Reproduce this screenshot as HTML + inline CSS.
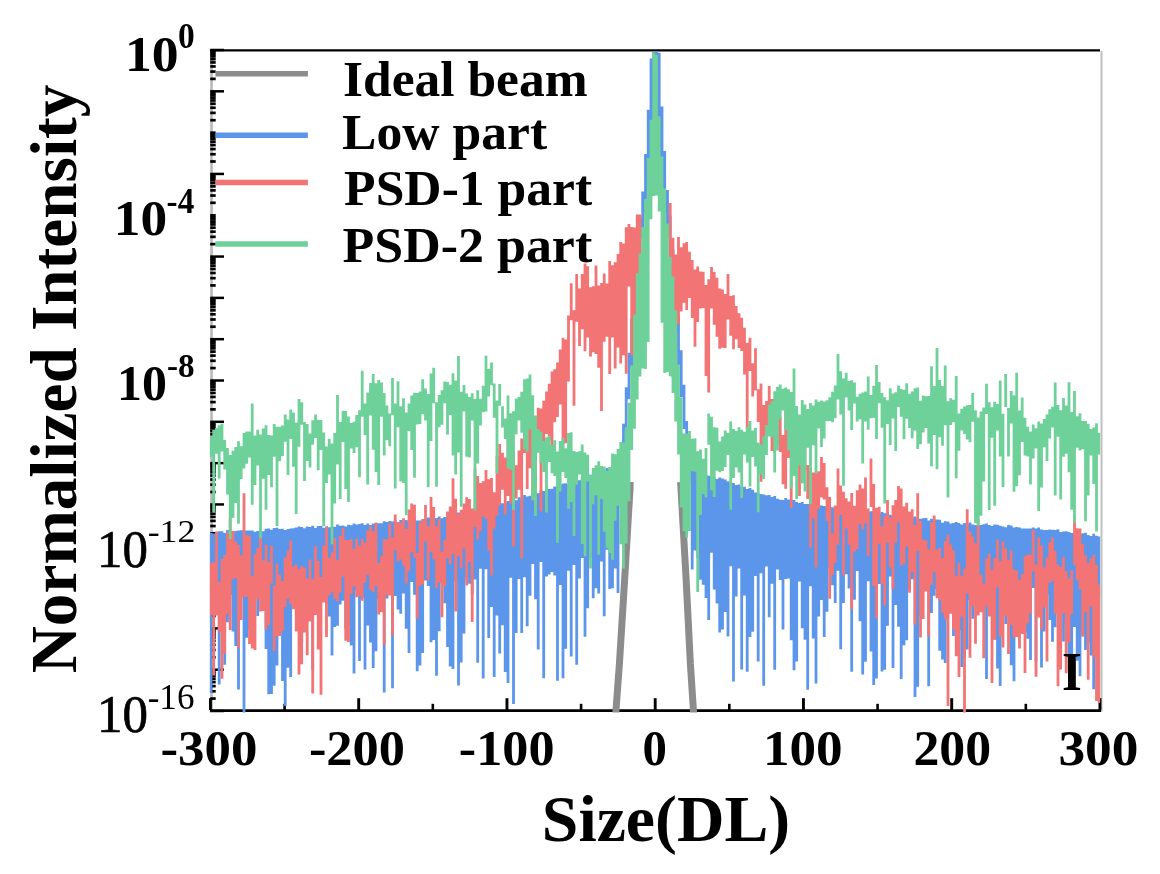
<!DOCTYPE html>
<html><head><meta charset="utf-8"><style>html,body{margin:0;padding:0;background:#fff;width:1160px;height:874px;overflow:hidden}svg{display:block;filter:blur(0.45px)}</style></head>
<body><svg width="1160" height="874" viewBox="0 0 1160 874"><line x1="211.55" y1="50" x2="211.55" y2="712" stroke="#bbbbbb" stroke-width="2.7"/>
<line x1="1101.5" y1="51" x2="1101.5" y2="712" stroke="#c0c0c0" stroke-width="2"/>
<line x1="210.2" y1="50.4" x2="1100" y2="50.4" stroke="#000" stroke-width="2.4"/>
<line x1="210.2" y1="710.7" x2="1101" y2="710.7" stroke="#000" stroke-width="2.7"/>
<line x1="210.2" y1="50.00" x2="224" y2="50.00" stroke="#000" stroke-width="2.5"/>
<line x1="210.2" y1="78.88" x2="215.7" y2="78.88" stroke="#000" stroke-width="2.7"/>
<line x1="210.2" y1="71.60" x2="215.7" y2="71.60" stroke="#000" stroke-width="2.7"/>
<line x1="210.2" y1="66.44" x2="215.7" y2="66.44" stroke="#000" stroke-width="2.7"/>
<line x1="210.2" y1="62.44" x2="215.7" y2="62.44" stroke="#000" stroke-width="2.7"/>
<line x1="210.2" y1="59.17" x2="215.7" y2="59.17" stroke="#000" stroke-width="2.7"/>
<line x1="210.2" y1="56.40" x2="215.7" y2="56.40" stroke="#000" stroke-width="2.7"/>
<line x1="210.2" y1="54.00" x2="215.7" y2="54.00" stroke="#000" stroke-width="2.7"/>
<line x1="210.2" y1="51.89" x2="215.7" y2="51.89" stroke="#000" stroke-width="2.7"/>
<line x1="210.2" y1="91.31" x2="224" y2="91.31" stroke="#000" stroke-width="2.5"/>
<line x1="210.2" y1="120.19" x2="215.7" y2="120.19" stroke="#000" stroke-width="2.7"/>
<line x1="210.2" y1="112.91" x2="215.7" y2="112.91" stroke="#000" stroke-width="2.7"/>
<line x1="210.2" y1="107.75" x2="215.7" y2="107.75" stroke="#000" stroke-width="2.7"/>
<line x1="210.2" y1="103.75" x2="215.7" y2="103.75" stroke="#000" stroke-width="2.7"/>
<line x1="210.2" y1="100.48" x2="215.7" y2="100.48" stroke="#000" stroke-width="2.7"/>
<line x1="210.2" y1="97.71" x2="215.7" y2="97.71" stroke="#000" stroke-width="2.7"/>
<line x1="210.2" y1="95.32" x2="215.7" y2="95.32" stroke="#000" stroke-width="2.7"/>
<line x1="210.2" y1="93.20" x2="215.7" y2="93.20" stroke="#000" stroke-width="2.7"/>
<line x1="210.2" y1="132.62" x2="215.7" y2="132.62" stroke="#000" stroke-width="2.5"/>
<line x1="210.2" y1="161.50" x2="215.7" y2="161.50" stroke="#000" stroke-width="2.7"/>
<line x1="210.2" y1="154.23" x2="215.7" y2="154.23" stroke="#000" stroke-width="2.7"/>
<line x1="210.2" y1="149.06" x2="215.7" y2="149.06" stroke="#000" stroke-width="2.7"/>
<line x1="210.2" y1="145.06" x2="215.7" y2="145.06" stroke="#000" stroke-width="2.7"/>
<line x1="210.2" y1="141.79" x2="215.7" y2="141.79" stroke="#000" stroke-width="2.7"/>
<line x1="210.2" y1="139.02" x2="215.7" y2="139.02" stroke="#000" stroke-width="2.7"/>
<line x1="210.2" y1="136.63" x2="215.7" y2="136.63" stroke="#000" stroke-width="2.7"/>
<line x1="210.2" y1="134.52" x2="215.7" y2="134.52" stroke="#000" stroke-width="2.7"/>
<line x1="210.2" y1="173.94" x2="224" y2="173.94" stroke="#000" stroke-width="2.5"/>
<line x1="210.2" y1="202.81" x2="215.7" y2="202.81" stroke="#000" stroke-width="2.7"/>
<line x1="210.2" y1="195.54" x2="215.7" y2="195.54" stroke="#000" stroke-width="2.7"/>
<line x1="210.2" y1="190.38" x2="215.7" y2="190.38" stroke="#000" stroke-width="2.7"/>
<line x1="210.2" y1="186.37" x2="215.7" y2="186.37" stroke="#000" stroke-width="2.7"/>
<line x1="210.2" y1="183.10" x2="215.7" y2="183.10" stroke="#000" stroke-width="2.7"/>
<line x1="210.2" y1="180.34" x2="215.7" y2="180.34" stroke="#000" stroke-width="2.7"/>
<line x1="210.2" y1="177.94" x2="215.7" y2="177.94" stroke="#000" stroke-width="2.7"/>
<line x1="210.2" y1="175.83" x2="215.7" y2="175.83" stroke="#000" stroke-width="2.7"/>
<line x1="210.2" y1="215.25" x2="215.7" y2="215.25" stroke="#000" stroke-width="2.5"/>
<line x1="210.2" y1="244.13" x2="215.7" y2="244.13" stroke="#000" stroke-width="2.7"/>
<line x1="210.2" y1="236.85" x2="215.7" y2="236.85" stroke="#000" stroke-width="2.7"/>
<line x1="210.2" y1="231.69" x2="215.7" y2="231.69" stroke="#000" stroke-width="2.7"/>
<line x1="210.2" y1="227.69" x2="215.7" y2="227.69" stroke="#000" stroke-width="2.7"/>
<line x1="210.2" y1="224.42" x2="215.7" y2="224.42" stroke="#000" stroke-width="2.7"/>
<line x1="210.2" y1="221.65" x2="215.7" y2="221.65" stroke="#000" stroke-width="2.7"/>
<line x1="210.2" y1="219.25" x2="215.7" y2="219.25" stroke="#000" stroke-width="2.7"/>
<line x1="210.2" y1="217.14" x2="215.7" y2="217.14" stroke="#000" stroke-width="2.7"/>
<line x1="210.2" y1="256.56" x2="224" y2="256.56" stroke="#000" stroke-width="2.5"/>
<line x1="210.2" y1="285.44" x2="215.7" y2="285.44" stroke="#000" stroke-width="2.7"/>
<line x1="210.2" y1="278.16" x2="215.7" y2="278.16" stroke="#000" stroke-width="2.7"/>
<line x1="210.2" y1="273.00" x2="215.7" y2="273.00" stroke="#000" stroke-width="2.7"/>
<line x1="210.2" y1="269.00" x2="215.7" y2="269.00" stroke="#000" stroke-width="2.7"/>
<line x1="210.2" y1="265.73" x2="215.7" y2="265.73" stroke="#000" stroke-width="2.7"/>
<line x1="210.2" y1="262.96" x2="215.7" y2="262.96" stroke="#000" stroke-width="2.7"/>
<line x1="210.2" y1="260.57" x2="215.7" y2="260.57" stroke="#000" stroke-width="2.7"/>
<line x1="210.2" y1="258.45" x2="215.7" y2="258.45" stroke="#000" stroke-width="2.7"/>
<line x1="210.2" y1="297.88" x2="224" y2="297.88" stroke="#000" stroke-width="2.5"/>
<line x1="210.2" y1="326.75" x2="215.7" y2="326.75" stroke="#000" stroke-width="2.7"/>
<line x1="210.2" y1="319.48" x2="215.7" y2="319.48" stroke="#000" stroke-width="2.7"/>
<line x1="210.2" y1="314.31" x2="215.7" y2="314.31" stroke="#000" stroke-width="2.7"/>
<line x1="210.2" y1="310.31" x2="215.7" y2="310.31" stroke="#000" stroke-width="2.7"/>
<line x1="210.2" y1="307.04" x2="215.7" y2="307.04" stroke="#000" stroke-width="2.7"/>
<line x1="210.2" y1="304.27" x2="215.7" y2="304.27" stroke="#000" stroke-width="2.7"/>
<line x1="210.2" y1="301.88" x2="215.7" y2="301.88" stroke="#000" stroke-width="2.7"/>
<line x1="210.2" y1="299.77" x2="215.7" y2="299.77" stroke="#000" stroke-width="2.7"/>
<line x1="210.2" y1="339.19" x2="224" y2="339.19" stroke="#000" stroke-width="2.5"/>
<line x1="210.2" y1="368.06" x2="215.7" y2="368.06" stroke="#000" stroke-width="2.7"/>
<line x1="210.2" y1="360.79" x2="215.7" y2="360.79" stroke="#000" stroke-width="2.7"/>
<line x1="210.2" y1="355.63" x2="215.7" y2="355.63" stroke="#000" stroke-width="2.7"/>
<line x1="210.2" y1="351.62" x2="215.7" y2="351.62" stroke="#000" stroke-width="2.7"/>
<line x1="210.2" y1="348.35" x2="215.7" y2="348.35" stroke="#000" stroke-width="2.7"/>
<line x1="210.2" y1="345.59" x2="215.7" y2="345.59" stroke="#000" stroke-width="2.7"/>
<line x1="210.2" y1="343.19" x2="215.7" y2="343.19" stroke="#000" stroke-width="2.7"/>
<line x1="210.2" y1="341.08" x2="215.7" y2="341.08" stroke="#000" stroke-width="2.7"/>
<line x1="210.2" y1="380.50" x2="224" y2="380.50" stroke="#000" stroke-width="2.5"/>
<line x1="210.2" y1="409.38" x2="215.7" y2="409.38" stroke="#000" stroke-width="2.7"/>
<line x1="210.2" y1="402.10" x2="215.7" y2="402.10" stroke="#000" stroke-width="2.7"/>
<line x1="210.2" y1="396.94" x2="215.7" y2="396.94" stroke="#000" stroke-width="2.7"/>
<line x1="210.2" y1="392.94" x2="215.7" y2="392.94" stroke="#000" stroke-width="2.7"/>
<line x1="210.2" y1="389.67" x2="215.7" y2="389.67" stroke="#000" stroke-width="2.7"/>
<line x1="210.2" y1="386.90" x2="215.7" y2="386.90" stroke="#000" stroke-width="2.7"/>
<line x1="210.2" y1="384.50" x2="215.7" y2="384.50" stroke="#000" stroke-width="2.7"/>
<line x1="210.2" y1="382.39" x2="215.7" y2="382.39" stroke="#000" stroke-width="2.7"/>
<line x1="210.2" y1="421.81" x2="224" y2="421.81" stroke="#000" stroke-width="2.5"/>
<line x1="210.2" y1="450.69" x2="215.7" y2="450.69" stroke="#000" stroke-width="2.7"/>
<line x1="210.2" y1="443.41" x2="215.7" y2="443.41" stroke="#000" stroke-width="2.7"/>
<line x1="210.2" y1="438.25" x2="215.7" y2="438.25" stroke="#000" stroke-width="2.7"/>
<line x1="210.2" y1="434.25" x2="215.7" y2="434.25" stroke="#000" stroke-width="2.7"/>
<line x1="210.2" y1="430.98" x2="215.7" y2="430.98" stroke="#000" stroke-width="2.7"/>
<line x1="210.2" y1="428.21" x2="215.7" y2="428.21" stroke="#000" stroke-width="2.7"/>
<line x1="210.2" y1="425.82" x2="215.7" y2="425.82" stroke="#000" stroke-width="2.7"/>
<line x1="210.2" y1="423.70" x2="215.7" y2="423.70" stroke="#000" stroke-width="2.7"/>
<line x1="210.2" y1="463.12" x2="224" y2="463.12" stroke="#000" stroke-width="2.5"/>
<line x1="210.2" y1="492.00" x2="215.7" y2="492.00" stroke="#000" stroke-width="2.7"/>
<line x1="210.2" y1="484.73" x2="215.7" y2="484.73" stroke="#000" stroke-width="2.7"/>
<line x1="210.2" y1="479.56" x2="215.7" y2="479.56" stroke="#000" stroke-width="2.7"/>
<line x1="210.2" y1="475.56" x2="215.7" y2="475.56" stroke="#000" stroke-width="2.7"/>
<line x1="210.2" y1="472.29" x2="215.7" y2="472.29" stroke="#000" stroke-width="2.7"/>
<line x1="210.2" y1="469.52" x2="215.7" y2="469.52" stroke="#000" stroke-width="2.7"/>
<line x1="210.2" y1="467.13" x2="215.7" y2="467.13" stroke="#000" stroke-width="2.7"/>
<line x1="210.2" y1="465.02" x2="215.7" y2="465.02" stroke="#000" stroke-width="2.7"/>
<line x1="210.2" y1="504.44" x2="224" y2="504.44" stroke="#000" stroke-width="2.5"/>
<line x1="210.2" y1="533.31" x2="215.7" y2="533.31" stroke="#000" stroke-width="2.7"/>
<line x1="210.2" y1="526.04" x2="215.7" y2="526.04" stroke="#000" stroke-width="2.7"/>
<line x1="210.2" y1="520.88" x2="215.7" y2="520.88" stroke="#000" stroke-width="2.7"/>
<line x1="210.2" y1="516.87" x2="215.7" y2="516.87" stroke="#000" stroke-width="2.7"/>
<line x1="210.2" y1="513.60" x2="215.7" y2="513.60" stroke="#000" stroke-width="2.7"/>
<line x1="210.2" y1="510.84" x2="215.7" y2="510.84" stroke="#000" stroke-width="2.7"/>
<line x1="210.2" y1="508.44" x2="215.7" y2="508.44" stroke="#000" stroke-width="2.7"/>
<line x1="210.2" y1="506.33" x2="215.7" y2="506.33" stroke="#000" stroke-width="2.7"/>
<line x1="210.2" y1="545.75" x2="224" y2="545.75" stroke="#000" stroke-width="2.5"/>
<line x1="210.2" y1="574.63" x2="215.7" y2="574.63" stroke="#000" stroke-width="2.7"/>
<line x1="210.2" y1="567.35" x2="215.7" y2="567.35" stroke="#000" stroke-width="2.7"/>
<line x1="210.2" y1="562.19" x2="215.7" y2="562.19" stroke="#000" stroke-width="2.7"/>
<line x1="210.2" y1="558.19" x2="215.7" y2="558.19" stroke="#000" stroke-width="2.7"/>
<line x1="210.2" y1="554.92" x2="215.7" y2="554.92" stroke="#000" stroke-width="2.7"/>
<line x1="210.2" y1="552.15" x2="215.7" y2="552.15" stroke="#000" stroke-width="2.7"/>
<line x1="210.2" y1="549.75" x2="215.7" y2="549.75" stroke="#000" stroke-width="2.7"/>
<line x1="210.2" y1="547.64" x2="215.7" y2="547.64" stroke="#000" stroke-width="2.7"/>
<line x1="210.2" y1="587.06" x2="224" y2="587.06" stroke="#000" stroke-width="2.5"/>
<line x1="210.2" y1="615.94" x2="215.7" y2="615.94" stroke="#000" stroke-width="2.7"/>
<line x1="210.2" y1="608.66" x2="215.7" y2="608.66" stroke="#000" stroke-width="2.7"/>
<line x1="210.2" y1="603.50" x2="215.7" y2="603.50" stroke="#000" stroke-width="2.7"/>
<line x1="210.2" y1="599.50" x2="215.7" y2="599.50" stroke="#000" stroke-width="2.7"/>
<line x1="210.2" y1="596.23" x2="215.7" y2="596.23" stroke="#000" stroke-width="2.7"/>
<line x1="210.2" y1="593.46" x2="215.7" y2="593.46" stroke="#000" stroke-width="2.7"/>
<line x1="210.2" y1="591.07" x2="215.7" y2="591.07" stroke="#000" stroke-width="2.7"/>
<line x1="210.2" y1="588.95" x2="215.7" y2="588.95" stroke="#000" stroke-width="2.7"/>
<line x1="210.2" y1="628.38" x2="224" y2="628.38" stroke="#000" stroke-width="2.5"/>
<line x1="210.2" y1="657.25" x2="215.7" y2="657.25" stroke="#000" stroke-width="2.7"/>
<line x1="210.2" y1="649.98" x2="215.7" y2="649.98" stroke="#000" stroke-width="2.7"/>
<line x1="210.2" y1="644.81" x2="215.7" y2="644.81" stroke="#000" stroke-width="2.7"/>
<line x1="210.2" y1="640.81" x2="215.7" y2="640.81" stroke="#000" stroke-width="2.7"/>
<line x1="210.2" y1="637.54" x2="215.7" y2="637.54" stroke="#000" stroke-width="2.7"/>
<line x1="210.2" y1="634.77" x2="215.7" y2="634.77" stroke="#000" stroke-width="2.7"/>
<line x1="210.2" y1="632.38" x2="215.7" y2="632.38" stroke="#000" stroke-width="2.7"/>
<line x1="210.2" y1="630.27" x2="215.7" y2="630.27" stroke="#000" stroke-width="2.7"/>
<line x1="210.2" y1="669.69" x2="224" y2="669.69" stroke="#000" stroke-width="2.5"/>
<line x1="210.2" y1="698.56" x2="215.7" y2="698.56" stroke="#000" stroke-width="2.7"/>
<line x1="210.2" y1="691.29" x2="215.7" y2="691.29" stroke="#000" stroke-width="2.7"/>
<line x1="210.2" y1="686.13" x2="215.7" y2="686.13" stroke="#000" stroke-width="2.7"/>
<line x1="210.2" y1="682.12" x2="215.7" y2="682.12" stroke="#000" stroke-width="2.7"/>
<line x1="210.2" y1="678.85" x2="215.7" y2="678.85" stroke="#000" stroke-width="2.7"/>
<line x1="210.2" y1="676.09" x2="215.7" y2="676.09" stroke="#000" stroke-width="2.7"/>
<line x1="210.2" y1="673.69" x2="215.7" y2="673.69" stroke="#000" stroke-width="2.7"/>
<line x1="210.2" y1="671.58" x2="215.7" y2="671.58" stroke="#000" stroke-width="2.7"/>
<line x1="210.2" y1="711.00" x2="224" y2="711.00" stroke="#000" stroke-width="2.5"/>
<line x1="210.45" y1="698.2" x2="210.45" y2="710" stroke="#000" stroke-width="2.9"/>
<line x1="284.58" y1="703.8" x2="284.58" y2="710" stroke="#000" stroke-width="2.6"/>
<line x1="358.70" y1="698.2" x2="358.70" y2="710" stroke="#000" stroke-width="2.9"/>
<line x1="432.83" y1="703.8" x2="432.83" y2="710" stroke="#000" stroke-width="2.6"/>
<line x1="506.95" y1="698.2" x2="506.95" y2="710" stroke="#000" stroke-width="2.9"/>
<line x1="581.08" y1="703.8" x2="581.08" y2="710" stroke="#000" stroke-width="2.6"/>
<line x1="655.20" y1="698.2" x2="655.20" y2="710" stroke="#000" stroke-width="2.9"/>
<line x1="729.33" y1="703.8" x2="729.33" y2="710" stroke="#000" stroke-width="2.6"/>
<line x1="803.45" y1="698.2" x2="803.45" y2="710" stroke="#000" stroke-width="2.9"/>
<line x1="877.58" y1="703.8" x2="877.58" y2="710" stroke="#000" stroke-width="2.6"/>
<line x1="951.70" y1="698.2" x2="951.70" y2="710" stroke="#000" stroke-width="2.9"/>
<line x1="1025.83" y1="703.8" x2="1025.83" y2="710" stroke="#000" stroke-width="2.6"/>
<line x1="1099.95" y1="698.2" x2="1099.95" y2="710" stroke="#000" stroke-width="2.9"/>
<defs><clipPath id="pc"><rect x="209.6" y="51.6" width="890.6" height="660.9"/></clipPath></defs>
<g clip-path="url(#pc)">
<polyline points="630.2,482.0 630.0,489.0 624.8,577.0 619.4,664.0 616.0,710.0 615.7,716.0" fill="none" stroke="#8c8c8c" stroke-width="7" stroke-linejoin="miter" stroke-miterlimit="1" />
<polyline points="680.6,482.0 681.0,489.0 686.0,577.0 690.4,664.0 693.4,710.0 693.7,716.0" fill="none" stroke="#8c8c8c" stroke-width="7" stroke-linejoin="miter" stroke-miterlimit="1" />
<path d="M211.0 532.8V692.9M213.7 533.5V589.8M216.5 533.0V588.8M219.2 531.2V684.5M222.0 531.3V587.7M224.7 532.9V664.8M227.5 530.1V622.3M230.2 532.5V595.0M233.0 532.2V631.4M235.7 531.1V645.9M238.5 530.5V689.4M241.2 530.3V594.0M244.0 530.1V713.0M246.7 530.5V637.7M249.5 530.5V629.8M252.2 530.5V619.0M255.0 531.7V598.9M257.7 531.0V615.9M260.5 530.3V598.6M263.2 531.3V594.8M266.0 528.8V649.1M268.7 528.5V694.3M271.5 529.8V694.1M274.2 527.9V685.8M277.0 527.8V665.4M279.7 529.1V591.8M282.5 528.8V680.9M285.2 530.0V706.0M288.0 529.0V667.7M290.7 528.5V677.1M293.5 528.3V586.3M296.2 527.4V586.4M299.0 526.5V617.8M301.7 526.9V642.0M304.5 528.2V615.3M307.2 526.6V595.1M310.0 527.0V600.3M312.7 525.7V669.8M315.5 528.0V589.5M318.2 525.9V605.6M321.0 526.0V595.4M323.7 527.7V594.1M326.5 526.4V603.2M329.2 527.3V616.6M332.0 526.5V655.6M334.7 526.7V627.1M337.5 524.6V625.8M340.2 525.8V604.5M343.0 525.5V600.8M345.7 526.4V628.8M348.5 524.7V624.9M351.2 525.3V645.5M354.0 523.5V673.5M356.7 524.4V591.0M359.5 524.0V660.9M362.2 523.3V597.8M365.0 525.0V669.5M367.7 523.5V625.4M370.5 525.0V642.6M373.2 523.6V668.1M376.0 523.4V651.3M378.7 523.3V598.9M381.5 523.2V597.6M384.2 521.3V692.5M387.0 522.0V598.4M389.7 521.1V593.5M392.5 521.4V688.3M395.2 520.2V595.9M398.0 522.6V609.5M400.7 520.1V613.7M403.5 521.2V593.6M406.2 519.9V628.7M409.0 521.3V652.9M411.7 520.5V581.9M414.5 518.6V594.7M417.2 520.5V671.3M420.0 520.6V665.5M422.7 520.2V653.0M425.5 519.0V580.5M428.2 517.5V586.0M431.0 517.4V642.3M433.7 519.3V639.9M436.5 518.0V675.8M439.2 516.6V631.3M442.0 518.3V582.6M444.7 517.0V603.3M447.5 516.2V647.1M450.2 515.1V666.6M453.0 514.6V668.9M455.7 513.6V581.2M458.5 512.4V685.6M461.2 514.4V662.6M464.0 512.6V633.4M466.7 512.3V578.2M469.5 511.1V583.7M472.2 511.8V594.2M475.0 509.1V579.5M477.7 509.6V662.8M480.5 508.0V568.8M483.2 507.4V678.5M486.0 509.2V569.2M488.7 507.5V637.9M491.5 506.0V607.1M494.2 505.5V677.1M497.0 505.8V615.6M499.7 503.4V653.5M502.5 503.3V625.2M505.2 502.8V672.0M508.0 501.1V683.1M510.7 500.8V577.8M513.5 500.7V704.0M516.2 500.3V632.9M519.0 497.2V578.9M521.7 498.7V632.9M524.5 495.1V577.3M527.2 496.5V626.2M530.0 495.8V595.7M532.7 492.9V563.9M535.5 492.9V599.3M538.2 493.2V649.5M541.0 490.0V562.1M543.7 491.0V678.2M546.5 490.6V576.5M549.2 488.9V574.5M552.0 488.7V572.0M554.7 486.4V575.5M557.5 485.4V680.8M560.2 485.1V585.1M563.0 483.6V678.2M565.7 483.3V648.8M568.5 484.2V570.7M571.2 482.3V656.5M574.0 480.6V565.1M576.7 479.4V664.8M579.5 480.3V578.5M582.2 477.7V558.0M585.0 478.3V636.8M587.7 475.8V608.3M590.5 474.7V558.0M593.2 474.8V598.2M596.0 473.3V588.2M598.7 471.7V593.6M601.5 470.2V561.5M604.2 470.4V616.3M607.0 468.0V549.8M609.7 468.4V589.1M612.5 464.8V588.2M615.2 465.1V568.5M618.0 464.8V593.1M620.7 457.1V483.2M623.5 423.7V461.0M626.2 387.2V431.4M629.0 352.8V399.3M631.7 318.4V367.2M634.5 284.5V334.1M637.2 251.2V299.7M640.0 217.9V265.3M642.7 191.6V238.3M645.5 153.9V214.3M648.2 109.8V195.9M651.0 58.5V185.6M653.7 50.7V164.8M656.5 50.6V162.7M659.2 52.7V184.7M662.0 106.5V195.2M664.7 150.9V212.4M667.5 190.1V236.7M670.2 215.4V262.8M673.0 248.8V297.2M675.7 282.1V331.6M678.5 315.9V364.9M681.2 350.3V397.0M684.0 384.7V429.0M686.7 421.0V459.4M689.5 456.2V481.8M692.2 469.0V569.4M695.0 471.0V550.6M697.7 472.0V558.2M700.5 472.7V579.8M703.2 471.7V584.7M706.0 475.1V597.9M708.7 475.7V620.1M711.5 476.9V552.8M714.2 476.9V589.5M717.0 479.1V603.6M719.7 477.5V632.6M722.5 478.5V629.6M725.2 479.4V611.9M728.0 481.2V636.6M730.7 482.2V566.2M733.5 483.0V681.4M736.2 485.1V596.5M739.0 484.4V568.6M741.7 487.0V669.5M744.5 486.7V595.4M747.2 489.1V671.8M750.0 488.1V637.1M752.7 489.8V631.8M755.5 492.6V576.0M758.2 492.4V661.5M761.0 494.1V573.3M763.7 494.5V685.8M766.5 495.3V566.5M769.2 495.0V617.3M772.0 496.9V583.7M774.7 495.9V669.7M777.5 498.7V569.6M780.2 499.7V580.1M783.0 500.0V629.5M785.7 498.1V578.9M788.5 499.5V578.6M791.2 500.0V640.2M794.0 499.9V670.2M796.7 502.0V661.4M799.5 502.9V581.5M802.2 501.9V628.2M805.0 503.9V639.7M807.7 504.1V689.8M810.5 502.5V586.3M813.2 504.8V638.5M816.0 505.6V683.4M818.7 503.9V616.4M821.5 505.5V600.0M824.2 506.1V637.0M827.0 506.4V611.8M829.7 505.2V567.9M832.5 507.3V585.2M835.2 507.5V602.9M838.0 508.5V570.8M840.7 508.8V649.2M843.5 507.7V603.1M846.2 509.2V574.2M849.0 510.0V588.4M851.7 510.4V671.8M854.5 508.5V599.7M857.2 508.5V571.0M860.0 510.7V621.2M862.7 509.7V674.5M865.5 511.1V661.8M868.2 512.6V581.2M871.0 511.3V651.5M873.7 511.3V684.9M876.5 512.3V678.5M879.2 513.2V584.1M882.0 511.9V671.6M884.7 513.2V669.7M887.5 512.8V625.7M890.2 514.8V576.4M893.0 515.7V668.1M895.7 514.7V604.9M898.5 515.0V626.8M901.2 515.9V679.1M904.0 515.3V645.2M906.7 515.8V640.2M909.5 516.4V589.5M912.2 517.2V579.3M915.0 516.4V697.0M917.7 518.8V686.8M920.5 518.7V615.9M923.2 518.2V582.1M926.0 517.9V589.3M928.7 520.4V686.3M931.5 518.8V613.0M934.2 519.2V595.8M937.0 519.6V588.8M939.7 519.8V650.8M942.5 522.7V659.4M945.2 521.2V663.0M948.0 521.6V597.1M950.7 523.5V592.3M953.5 523.1V636.0M956.2 522.0V588.8M959.0 522.9V630.2M961.7 524.4V667.0M964.5 523.0V658.2M967.2 524.2V649.5M970.0 522.5V600.1M972.7 524.6V618.8M975.5 524.9V587.9M978.2 525.2V595.3M981.0 525.0V584.0M983.7 524.2V584.2M986.5 523.5V678.9M989.2 525.0V606.6M992.0 525.9V599.6M994.7 524.4V639.8M997.5 524.8V668.4M1000.2 525.7V685.9M1003.0 526.6V598.6M1005.7 527.2V624.1M1008.5 525.0V588.5M1011.2 525.4V665.3M1014.0 527.4V681.3M1016.7 527.1V587.2M1019.5 527.5V598.1M1022.2 528.5V596.9M1025.0 528.5V631.9M1027.7 528.4V638.8M1030.5 528.4V660.0M1033.2 527.6V587.9M1036.0 528.6V662.6M1038.7 527.6V585.3M1041.5 529.6V667.6M1044.2 529.9V631.4M1047.0 530.1V594.7M1049.7 529.6V620.0M1052.5 529.7V641.7M1055.2 530.1V627.2M1058.0 529.3V608.9M1060.7 532.0V591.9M1063.5 531.5V641.4M1066.2 531.3V624.6M1069.0 532.1V670.3M1071.7 532.9V677.2M1074.5 532.2V627.0M1077.2 533.9V660.7M1080.0 534.5V676.3M1082.7 533.2V634.4M1085.5 532.8V650.1M1088.2 534.9V642.8M1091.0 535.9V655.4M1093.7 533.7V689.3M1096.5 535.7V614.9M1099.2 536.4V597.4" stroke="#5b96ea" stroke-width="2.8" fill="none"/>
<path d="M211.0 563.0V615.0M213.7 562.3V675.4M216.5 531.6V615.4M219.2 582.1V631.7M222.0 559.1V678.8M224.7 555.1V653.4M227.5 532.4V613.8M230.2 518.3V630.0M233.0 531.1V579.2M235.7 541.8V578.0M238.5 545.0V647.9M241.2 555.2V619.9M244.0 493.3V596.7M246.7 535.4V597.1M249.5 535.5V644.0M252.2 575.7V648.6M255.0 554.2V650.0M257.7 548.0V599.0M260.5 536.5V611.6M263.2 560.3V611.0M266.0 544.8V629.6M268.7 561.9V625.1M271.5 545.5V583.6M274.2 585.6V650.9M277.0 563.7V636.3M279.7 575.0V635.9M282.5 581.0V631.1M285.2 557.5V607.0M288.0 550.6V598.7M290.7 540.5V604.2M293.5 566.6V609.3M296.2 564.3V631.4M299.0 569.0V674.6M301.7 566.1V664.2M304.5 568.1V632.6M307.2 578.6V655.2M310.0 559.6V621.4M312.7 579.3V693.5M315.5 546.0V615.0M318.2 561.1V649.5M321.0 577.0V694.7M323.7 545.8V602.6M326.5 526.6V637.0M329.2 557.8V595.6M332.0 552.4V592.2M334.7 537.9V598.7M337.5 559.9V601.3M340.2 536.0V592.5M343.0 528.2V576.7M345.7 540.0V640.8M348.5 540.0V641.9M351.2 539.1V593.7M354.0 549.1V586.2M356.7 539.1V597.2M359.5 545.8V596.1M362.2 538.7V600.7M365.0 542.7V583.1M367.7 530.4V574.9M370.5 526.3V589.9M373.2 531.2V592.3M376.0 522.6V585.8M378.7 562.9V614.5M381.5 555.8V612.1M384.2 539.1V645.1M387.0 539.4V595.2M389.7 523.2V595.4M392.5 537.8V635.4M395.2 514.4V550.5M398.0 522.1V561.4M400.7 522.7V559.5M403.5 518.3V565.8M406.2 529.1V583.6M409.0 509.5V571.3M411.7 503.6V551.9M414.5 504.7V557.8M417.2 552.9V618.6M420.0 522.5V586.0M422.7 519.0V584.3M425.5 504.9V541.6M428.2 526.5V580.3M431.0 496.9V551.9M433.7 507.1V559.2M436.5 526.3V588.0M439.2 518.9V582.6M442.0 551.8V617.2M444.7 539.8V586.3M447.5 511.5V557.9M450.2 506.5V564.3M453.0 478.2V554.3M455.7 498.8V611.4M458.5 513.8V556.1M461.2 509.8V568.2M464.0 503.6V548.4M466.7 497.3V585.4M469.5 499.0V561.5M472.2 508.5V622.0M475.0 468.4V526.9M477.7 476.1V539.3M480.5 482.9V531.0M483.2 481.2V516.4M486.0 470.0V519.1M488.7 479.3V550.8M491.5 478.1V575.4M494.2 492.3V528.4M497.0 456.2V515.6M499.7 444.0V505.4M502.5 452.8V489.8M505.2 457.6V514.5M508.0 435.4V495.9M510.7 457.7V503.8M513.5 450.8V546.4M516.2 465.2V498.4M519.0 450.4V489.8M521.7 438.4V558.5M524.5 405.2V453.0M527.2 428.0V489.1M530.0 422.8V468.2M532.7 411.5V500.8M535.5 415.8V504.3M538.2 407.8V447.5M541.0 408.6V511.2M543.7 400.7V451.5M546.5 391.6V434.1M549.2 383.8V440.6M552.0 371.5V459.8M554.7 369.3V422.2M557.5 362.6V416.9M560.2 349.6V404.4M563.0 337.8V447.5M565.7 339.6V443.3M568.5 315.5V381.6M571.2 283.3V320.3M574.0 310.2V405.8M576.7 274.0V321.7M579.5 288.6V345.9M582.2 274.1V329.3M585.0 263.5V351.2M587.7 266.3V337.4M590.5 287.3V356.4M593.2 286.2V352.3M596.0 265.5V353.9M598.7 285.6V367.8M601.5 283.0V410.9M604.2 273.6V341.8M607.0 283.5V336.8M609.7 261.0V374.1M612.5 265.2V337.5M615.2 262.3V368.6M618.0 253.9V347.6M620.7 242.1V363.4M623.5 243.4V355.2M626.2 227.3V373.7M629.0 223.9V286.4M631.7 227.1V355.5M634.5 227.6V381.9M637.2 214.5V293.6M640.0 214.5V304.3M670.2 203.1V304.6M673.0 237.8V377.4M675.7 254.4V357.9M678.5 236.9V324.2M681.2 247.3V311.5M684.0 243.2V302.7M686.7 242.0V310.1M689.5 251.8V297.9M692.2 259.9V317.9M695.0 269.6V346.8M697.7 266.6V321.9M700.5 271.6V308.4M703.2 271.7V308.0M706.0 285.1V376.1M708.7 279.3V392.6M711.5 266.9V308.5M714.2 271.9V324.7M717.0 277.8V336.7M719.7 288.4V348.7M722.5 289.5V347.7M725.2 293.9V348.0M728.0 274.0V319.6M730.7 295.9V335.7M733.5 295.3V349.2M736.2 306.1V339.2M739.0 313.2V348.0M741.7 317.7V351.0M744.5 327.8V374.4M747.2 342.7V429.1M750.0 337.7V370.9M752.7 363.2V396.6M755.5 348.3V390.5M758.2 389.3V421.9M761.0 383.4V481.8M763.7 405.1V447.0M766.5 401.1V434.6M769.2 385.9V430.4M772.0 398.9V450.9M774.7 399.1V452.5M777.5 416.2V445.3M780.2 417.0V451.9M783.0 435.1V484.3M785.7 408.9V488.8M788.5 429.9V457.9M791.2 440.6V508.0M794.0 434.1V463.6M796.7 430.3V457.4M799.5 453.8V495.9M802.2 436.1V464.4M805.0 442.4V470.2M807.7 465.1V498.9M810.5 468.6V547.4M813.2 472.5V518.6M816.0 472.4V567.3M818.7 471.2V508.8M821.5 457.0V497.4M824.2 462.9V499.6M827.0 487.3V520.9M829.7 497.1V598.8M832.5 533.6V575.1M835.2 505.6V562.9M838.0 468.6V544.7M840.7 485.5V514.9M843.5 491.7V575.3M846.2 498.3V528.6M849.0 501.5V544.7M851.7 493.1V609.1M854.5 505.8V551.4M857.2 490.3V548.9M860.0 484.4V523.9M862.7 488.6V529.3M865.5 477.6V523.6M868.2 508.5V556.1M871.0 458.4V507.1M873.7 484.0V585.9M876.5 507.7V618.0M879.2 506.7V544.1M882.0 526.6V584.1M884.7 515.9V605.6M887.5 499.9V542.7M890.2 517.5V567.5M893.0 505.3V589.2M895.7 500.0V542.8M898.5 485.9V522.6M901.2 488.4V565.5M904.0 506.4V563.7M906.7 502.8V546.6M909.5 511.5V592.8M912.2 509.3V571.9M915.0 525.1V624.4M917.7 493.2V550.9M920.5 521.0V637.5M923.2 539.4V619.1M926.0 540.3V591.4M928.7 549.2V636.2M931.5 522.2V584.9M934.2 515.4V572.3M937.0 549.8V598.2M939.7 547.8V600.2M942.5 558.1V612.7M945.2 540.9V619.2M948.0 534.8V706.0M950.7 544.4V613.7M953.5 550.3V629.7M956.2 576.3V656.2M959.0 562.8V676.9M961.7 576.1V616.5M964.5 568.7V713.0M967.2 509.3V593.6M970.0 531.6V657.8M972.7 536.3V606.6M975.5 543.2V643.8M978.2 519.3V615.4M981.0 574.7V612.2M983.7 583.5V658.3M986.5 558.6V606.4M989.2 553.4V616.5M992.0 569.7V683.0M994.7 557.9V639.4M997.5 539.4V587.5M1000.2 561.3V636.5M1003.0 541.7V647.6M1005.7 548.5V616.0M1008.5 559.9V654.0M1011.2 550.5V624.9M1014.0 569.5V637.6M1016.7 570.6V637.0M1019.5 579.8V648.6M1022.2 574.3V634.1M1025.0 556.3V673.1M1027.7 554.6V623.5M1030.5 554.7V613.4M1033.2 529.8V571.2M1036.0 564.4V676.8M1038.7 537.3V617.4M1041.5 545.6V629.4M1044.2 567.5V607.3M1047.0 557.6V661.6M1049.7 542.6V583.1M1052.5 537.5V581.0M1055.2 550.8V613.8M1058.0 564.5V686.3M1060.7 567.1V669.6M1063.5 556.8V613.1M1066.2 571.1V673.2M1069.0 578.2V642.0M1071.7 570.3V614.3M1074.5 515.1V565.3M1077.2 528.3V580.3M1080.0 528.5V589.2M1082.7 543.9V636.8M1085.5 555.2V612.3M1088.2 563.1V679.7M1091.0 558.4V606.4M1093.7 554.8V657.1M1096.5 564.9V701.0M1099.2 584.8V703.0" stroke="#f27474" stroke-width="2.8" fill="none"/>
<path d="M211.0 436.7V456.9M213.7 430.1V512.6M216.5 428.1V453.7M219.2 425.3V478.6M222.0 423.8V451.5M224.7 440.0V469.5M227.5 447.9V494.6M230.2 455.1V538.9M233.0 450.7V518.0M235.7 447.1V503.0M238.5 441.2V523.7M241.2 446.3V479.0M244.0 433.1V468.4M246.7 431.6V463.8M249.5 431.6V457.4M252.2 403.6V504.8M255.0 435.6V484.9M257.7 429.8V465.4M260.5 434.6V538.2M263.2 428.4V478.7M266.0 425.3V509.8M268.7 435.0V475.0M271.5 435.5V487.2M274.2 424.1V456.7M277.0 426.8V526.1M279.7 426.7V461.2M282.5 425.6V456.0M285.2 414.4V441.7M288.0 419.5V474.9M290.7 409.5V439.1M293.5 412.6V466.7M296.2 422.6V513.9M299.0 399.1V446.7M301.7 402.2V424.7M304.5 422.0V480.9M307.2 424.1V461.0M310.0 433.5V467.6M312.7 420.2V444.7M315.5 414.5V437.9M318.2 419.8V470.3M321.0 420.0V450.1M323.7 432.5V526.2M326.5 446.4V483.1M329.2 438.8V474.4M332.0 443.5V544.3M334.7 433.0V503.6M337.5 395.0V464.5M340.2 421.9V498.9M343.0 410.8V442.0M345.7 410.9V489.1M348.5 416.6V502.0M351.2 423.1V448.4M354.0 421.8V453.1M356.7 415.0V447.2M359.5 410.3V477.3M362.2 370.8V416.8M365.0 403.6V434.9M367.7 392.6V484.6M370.5 383.1V415.4M373.2 374.1V449.8M376.0 383.3V472.0M378.7 380.1V485.0M381.5 382.4V416.7M384.2 392.9V455.6M387.0 405.6V440.1M389.7 413.5V446.3M392.5 378.0V415.3M395.2 403.5V488.6M398.0 381.3V427.3M400.7 406.3V481.6M403.5 398.3V482.9M406.2 412.4V515.2M409.0 403.4V431.1M411.7 395.4V449.9M414.5 392.7V477.7M417.2 393.0V424.4M420.0 391.4V424.0M422.7 379.2V414.2M425.5 388.5V420.4M428.2 394.0V487.2M431.0 373.4V441.1M433.7 367.7V403.2M436.5 402.3V486.7M439.2 395.1V427.3M442.0 390.3V424.8M444.7 381.6V403.3M447.5 382.0V434.5M450.2 384.7V415.1M453.0 373.2V455.5M455.7 380.5V474.6M458.5 356.0V452.6M461.2 391.8V506.7M464.0 385.1V411.6M466.7 393.6V456.7M469.5 397.1V457.6M472.2 393.2V420.4M475.0 399.1V510.4M477.7 390.2V463.5M480.5 398.7V425.6M483.2 385.8V412.3M486.0 355.7V411.4M488.7 368.9V396.4M491.5 362.4V385.3M494.2 383.5V417.7M497.0 400.4V473.4M499.7 384.0V405.8M502.5 406.3V427.4M505.2 418.6V438.9M508.0 395.5V468.4M510.7 413.2V469.8M513.5 411.2V510.0M516.2 398.6V434.3M519.0 397.1V420.6M521.7 391.7V432.8M524.5 379.3V449.3M527.2 378.5V451.8M530.0 374.4V429.4M532.7 395.3V500.1M535.5 415.8V516.0M538.2 429.0V452.7M541.0 431.7V463.1M543.7 441.1V472.0M546.5 437.3V512.4M549.2 436.0V461.9M552.0 445.3V473.3M554.7 440.3V475.9M557.5 451.4V542.8M560.2 440.9V491.4M563.0 438.0V472.1M565.7 448.3V478.0M568.5 432.9V508.7M571.2 432.3V501.9M574.0 451.0V536.0M576.7 451.9V484.4M579.5 451.2V474.5M582.2 444.6V543.9M585.0 452.6V556.2M587.7 454.7V481.6M590.5 475.6V568.5M593.2 468.1V504.2M596.0 465.2V495.2M598.7 461.2V554.7M601.5 465.9V499.0M604.2 466.4V531.7M607.0 470.8V547.9M609.7 467.1V553.1M612.5 453.4V559.7M615.2 454.3V520.8M618.0 448.9V505.8M620.7 442.1V544.2M623.5 442.6V568.6M626.2 427.3V543.5M629.0 402.8V501.3M631.7 365.2V450.0M634.5 314.5V428.7M637.2 273.3V399.6M640.0 253.8V376.4M642.7 227.1V368.4M645.5 198.9V369.1M648.2 157.9V342.0M651.0 119.7V219.3M653.7 52.4V195.9M656.5 54.8V195.6M659.2 116.3V211.6M662.0 156.6V322.8M664.7 188.5V373.0M667.5 223.6V372.1M670.2 257.0V376.2M673.0 276.5V393.0M675.7 310.2V421.6M678.5 364.6V454.5M681.2 397.3V507.5M684.0 433.5V531.2M686.7 433.7V537.7M689.5 431.1V530.9M692.2 438.8V471.2M695.0 438.2V471.8M697.7 451.3V591.9M700.5 449.4V515.0M703.2 458.7V493.9M706.0 448.0V497.6M708.7 413.4V444.8M711.5 416.8V490.3M714.2 427.2V496.9M717.0 427.8V470.7M719.7 441.4V472.3M722.5 436.4V471.1M725.2 430.6V467.2M728.0 433.1V454.9M730.7 421.5V509.7M733.5 429.0V478.1M736.2 430.8V467.5M739.0 427.3V472.6M741.7 429.8V498.0M744.5 431.7V454.4M747.2 426.9V462.6M750.0 421.0V486.4M752.7 430.5V457.1M755.5 427.8V466.5M758.2 442.5V512.2M761.0 444.6V474.3M763.7 436.6V478.9M766.5 424.9V455.0M769.2 404.8V436.5M772.0 401.3V437.2M774.7 391.3V472.6M777.5 386.7V450.6M780.2 384.5V419.3M783.0 388.7V410.6M785.7 387.6V429.9M788.5 389.3V450.3M791.2 392.1V488.6M794.0 368.5V476.1M796.7 405.9V498.9M799.5 414.4V465.6M802.2 400.1V483.2M805.0 404.6V491.6M807.7 409.0V447.8M810.5 403.1V504.2M813.2 405.4V445.3M816.0 399.5V473.5M818.7 401.8V428.5M821.5 400.5V446.9M824.2 401.5V438.6M827.0 400.3V421.3M829.7 397.2V421.0M832.5 391.7V422.3M835.2 385.4V418.2M838.0 354.0V399.5M840.7 371.2V414.4M843.5 378.4V485.8M846.2 372.7V397.5M849.0 381.0V410.6M851.7 380.2V430.0M854.5 382.6V403.5M857.2 396.7V421.6M860.0 393.8V419.2M862.7 392.6V463.4M865.5 391.5V421.5M868.2 376.5V429.8M871.0 394.9V418.3M873.7 385.8V417.8M876.5 364.9V439.0M879.2 382.1V403.2M882.0 393.0V427.8M884.7 397.3V503.5M887.5 400.2V424.0M890.2 388.2V445.0M893.0 393.4V418.6M895.7 392.2V451.1M898.5 385.6V407.0M901.2 388.9V416.8M904.0 389.8V439.2M906.7 383.2V418.7M909.5 393.7V428.1M912.2 391.5V438.2M915.0 388.2V430.5M917.7 387.5V449.0M920.5 400.8V444.3M923.2 395.4V432.5M926.0 396.3V428.1M928.7 395.9V443.6M931.5 366.3V466.2M934.2 386.0V435.0M937.0 348.0V469.2M939.7 380.1V437.2M942.5 385.9V445.8M945.2 365.4V425.2M948.0 401.3V497.5M950.7 398.2V425.1M953.5 399.7V422.3M956.2 376.0V478.3M959.0 413.5V450.8M961.7 408.8V430.5M964.5 406.4V434.0M967.2 405.2V439.4M970.0 405.1V442.3M972.7 393.1V421.7M975.5 410.3V523.3M978.2 417.6V525.9M981.0 411.4V515.7M983.7 407.4V481.4M986.5 383.7V413.9M989.2 402.2V510.0M992.0 407.3V437.7M994.7 401.8V505.7M997.5 404.1V430.4M1000.2 380.5V456.6M1003.0 413.8V487.3M1005.7 374.0V407.1M1008.5 408.0V456.6M1011.2 391.0V423.6M1014.0 395.3V491.8M1016.7 372.7V486.3M1019.5 410.5V475.2M1022.2 397.4V442.0M1025.0 417.7V455.6M1027.7 426.8V456.5M1030.5 431.5V484.6M1033.2 424.4V458.6M1036.0 428.3V448.6M1038.7 421.6V510.9M1041.5 423.6V487.6M1044.2 419.0V447.2M1047.0 414.5V461.1M1049.7 409.2V438.5M1052.5 406.7V427.6M1055.2 382.5V495.4M1058.0 405.1V436.8M1060.7 410.3V499.4M1063.5 398.1V456.8M1066.2 405.4V453.7M1069.0 382.2V472.3M1071.7 411.9V509.8M1074.5 391.1V522.8M1077.2 416.2V447.8M1080.0 413.3V450.4M1082.7 421.0V449.3M1085.5 420.9V521.3M1088.2 423.7V495.4M1091.0 429.0V455.4M1093.7 427.6V483.9M1096.5 423.2V531.4M1099.2 433.1V454.4" stroke="#6fd19a" stroke-width="2.8" fill="none"/>
</g>
<line x1="215.4" y1="73.8" x2="307.9" y2="73.8" stroke="#8c8c8c" stroke-width="5.6"/>
<line x1="215.4" y1="135.3" x2="307.9" y2="135.3" stroke="#5b96ea" stroke-width="5.6"/>
<line x1="215.4" y1="182.5" x2="307.9" y2="182.5" stroke="#f27474" stroke-width="5.6"/>
<line x1="215.4" y1="244.0" x2="307.9" y2="244.0" stroke="#6fd19a" stroke-width="5.6"/>
<text transform="translate(342.96,96.00) scale(1.0004,1)" font-family='"Liberation Serif", serif' font-weight="bold" font-size="51.5" >Ideal beam</text>
<text transform="translate(342.12,148.60) scale(1.0027,1)" font-family='"Liberation Serif", serif' font-weight="bold" font-size="51.5" >Low part</text>
<text transform="translate(344.12,204.60) scale(1.0026,1)" font-family='"Liberation Serif", serif' font-weight="bold" font-size="51.5" >PSD-1 part</text>
<text transform="translate(342.61,262.00) scale(1.0087,1)" font-family='"Liberation Serif", serif' font-weight="bold" font-size="51.5" >PSD-2 part</text>
<text transform="translate(160.46,765.30) scale(1.0590,1)" font-family='"Liberation Serif", serif' font-weight="bold" font-size="50" >-300</text>
<text transform="translate(308.88,765.30) scale(1.0476,1)" font-family='"Liberation Serif", serif' font-weight="bold" font-size="50" >-200</text>
<text transform="translate(458.79,765.30) scale(1.0442,1)" font-family='"Liberation Serif", serif' font-weight="bold" font-size="50" >-100</text>
<text transform="translate(642.44,765.30) scale(0.9768,1)" font-family='"Liberation Serif", serif' font-weight="bold" font-size="50" >0</text>
<text transform="translate(762.94,765.30) scale(1.0638,1)" font-family='"Liberation Serif", serif' font-weight="bold" font-size="50" >100</text>
<text transform="translate(913.43,765.30) scale(1.0353,1)" font-family='"Liberation Serif", serif' font-weight="bold" font-size="50" >200</text>
<text transform="translate(1058.39,765.30) scale(1.0672,1)" font-family='"Liberation Serif", serif' font-weight="bold" font-size="50" >300</text>
<text transform="translate(125.00,70.80) scale(1.0750,1)" font-family='"Liberation Serif", serif' font-weight="bold" font-size="50" >10</text>
<text transform="translate(177.92,48.40) scale(0.9307,1)" font-family='"Liberation Serif", serif' font-weight="bold" font-size="36" >0</text>
<text transform="translate(113.82,235.30) scale(1.0682,1)" font-family='"Liberation Serif", serif' font-weight="bold" font-size="50" >10</text>
<text transform="translate(166.59,212.90) scale(0.9214,1)" font-family='"Liberation Serif", serif' font-weight="bold" font-size="36" >-4</text>
<text transform="translate(117.00,399.80) scale(0.9979,1)" font-family='"Liberation Serif", serif' font-weight="bold" font-size="50" >10</text>
<text transform="translate(166.89,377.40) scale(1.0046,1)" font-family='"Liberation Serif", serif' font-weight="bold" font-size="33" >-8</text>
<text transform="translate(96.93,566.90) scale(0.9606,1)" font-family='"Liberation Serif", serif' font-weight="normal" font-size="53" stroke="#000" stroke-width="0.7">10</text>
<text transform="translate(147.67,541.50) scale(1.1361,1)" font-family='"Liberation Serif", serif' font-weight="normal" font-size="31.5" >-12</text>
<text transform="translate(96.92,731.50) scale(0.9813,1)" font-family='"Liberation Serif", serif' font-weight="normal" font-size="52" stroke="#000" stroke-width="0.7">10</text>
<text transform="translate(147.70,708.80) scale(0.9741,1)" font-family='"Liberation Serif", serif' font-weight="normal" font-size="36" >-16</text>
<text transform="translate(541.80,841.20) scale(0.9969,1)" font-family='"Liberation Serif", serif' font-weight="bold" font-size="66" >Size(DL)</text>
<text transform="translate(1061.88,689.60) scale(0.9438,1)" font-family='"Liberation Serif", serif' font-weight="bold" font-size="54" >I</text>
<text transform="translate(75.5,673.24) rotate(-90) scale(0.9956,1)" font-family='"Liberation Serif", serif' font-weight="bold" font-size="65.5">Normalized Intensity</text></svg></body></html>
